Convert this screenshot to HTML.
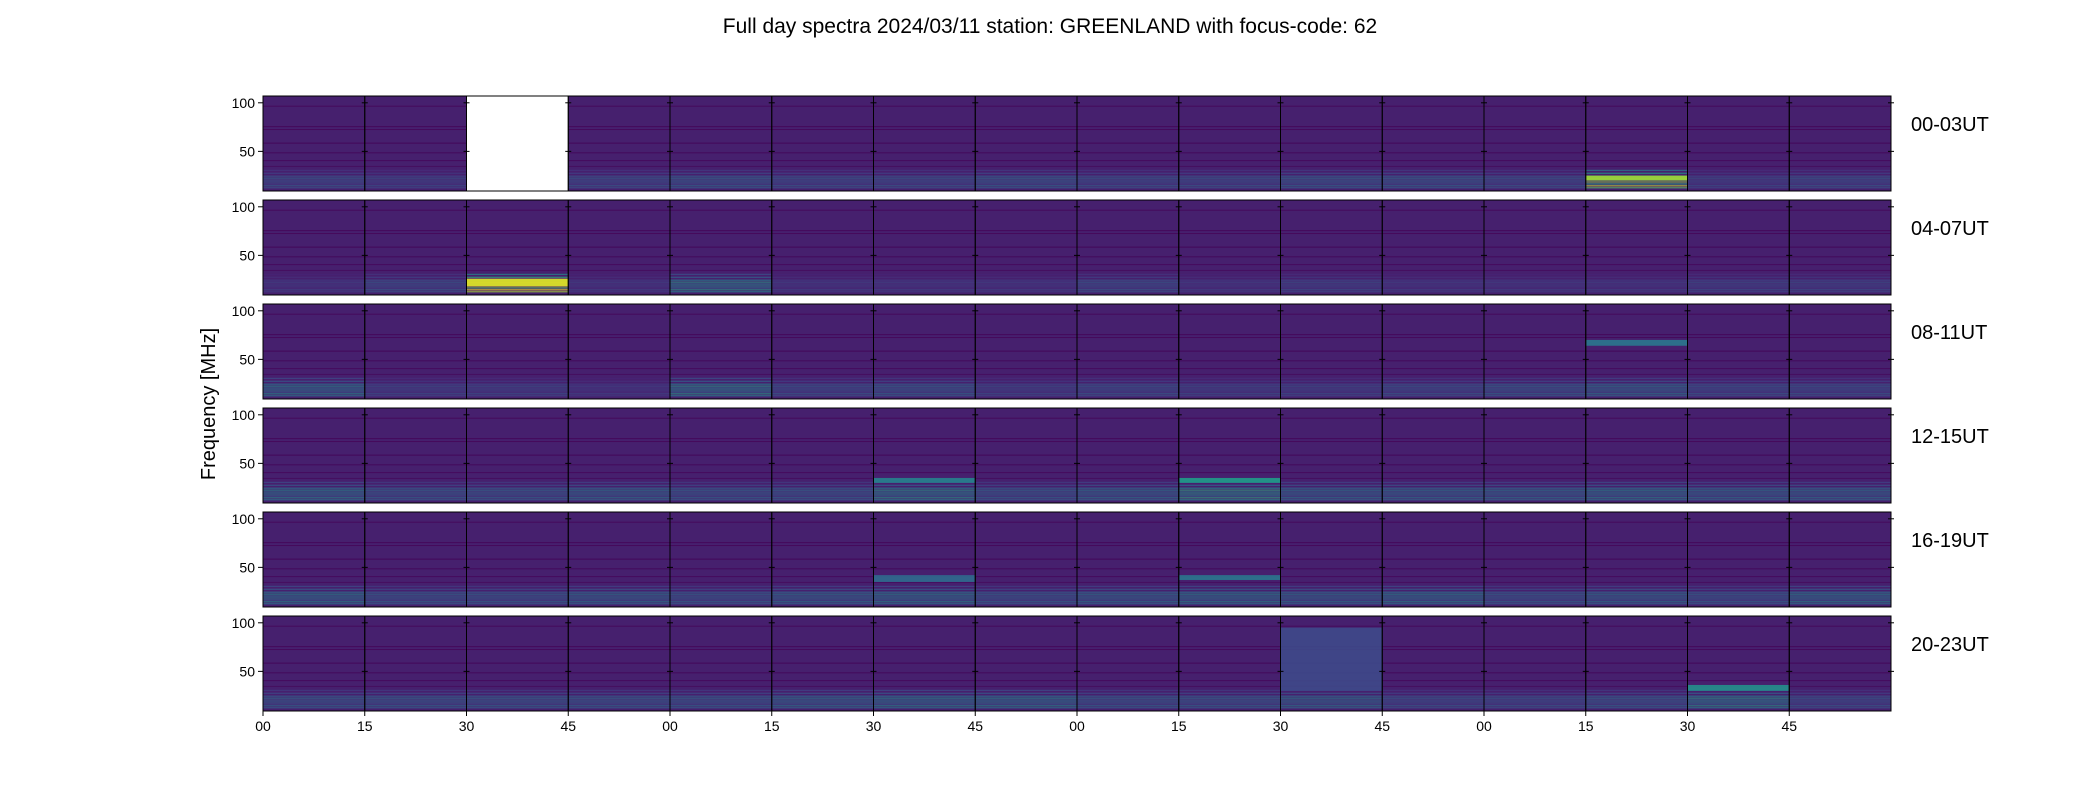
<!DOCTYPE html>
<html><head><meta charset="utf-8"><style>
body{margin:0;background:#fff;}
svg{display:block;font-family:"Liberation Sans","DejaVu Sans",sans-serif;}
</style></head><body>
<svg id="chart" width="2100" height="800" viewBox="0 0 2100 800" xmlns="http://www.w3.org/2000/svg">
<text x="1050" y="33" font-size="21" text-anchor="middle">Full day spectra 2024/03/11 station: GREENLAND with focus-code: 62</text>
<text x="0" y="0" font-size="20" text-anchor="middle" transform="translate(215,404) rotate(-90)">Frequency [MHz]</text>
<g id="panels"></g>
</svg>
<script>
const rowLabels=["00-03UT","04-07UT","08-11UT","12-15UT","16-19UT","20-23UT"];
const xTickLabels=["00","15","30","45","00","15","30","45","00","15","30","45","00","15","30","45"];
const yTicks=[50,100];
const lowBand=[
[0.3,0.25,null,0.3,0.35,0.3,0.3,0.35,0.3,0.3,0.35,0.35,0.3,0.8,0.25,0.3],
[0.2,0.3,0.95,0.2,0.5,0.2,0.2,0.2,0.3,0.2,0.25,0.2,0.2,0.2,0.25,0.25],
[0.45,0.25,0.25,0.2,0.5,0.3,0.35,0.25,0.3,0.25,0.25,0.3,0.35,0.4,0.3,0.3],
[0.45,0.35,0.35,0.4,0.35,0.35,0.5,0.35,0.4,0.55,0.4,0.4,0.4,0.45,0.4,0.4],
[0.45,0.35,0.35,0.4,0.35,0.4,0.45,0.35,0.4,0.45,0.4,0.45,0.35,0.4,0.35,0.45],
[0.35,0.35,0.35,0.35,0.35,0.4,0.45,0.45,0.35,0.35,0.4,0.3,0.3,0.35,0.5,0.3]];
const featRow=[0,1,2,3,3,5,5,4,4];
const featCol=[13,2,13,9,6,10,14,9,6];
const featLow=[20,18,64,30,30,30,30,37,35];
const featHigh=[25,26,70,35,35,95,36,42,42];
const featVal=[0.85,0.95,0.4,0.55,0.45,0.22,0.5,0.4,0.35];
const stripeFreq=[12,14,16,18,20,22,24,27,30,34,40,48,58,72,75,96];
const stripeWeight=[0.8,1.0,0.7,0.9,0.85,1.0,0.8,0.6,0.45,0.25,0.15,0.1,0.08,0.12,0.1,0.12];

const V=[[68,1,84],[72,40,120],[62,74,137],[49,104,142],[38,130,142],[31,158,137],[53,183,121],[110,206,88],[181,222,43],[253,231,37]];
function vir(t){t=Math.max(0,Math.min(1,t))*9;const i=Math.min(8,Math.floor(t)),f=t-i;const a=V[i],b=V[i+1];
return `rgb(${Math.round(a[0]+(b[0]-a[0])*f)},${Math.round(a[1]+(b[1]-a[1])*f)},${Math.round(a[2]+(b[2]-a[2])*f)})`;}
const X0=263,PW=1628/16,Y0=96,PH=95,PITCH=104,FMIN=9.2,FMAX=107;
function xPanel(c){return X0+c*PW;}
function yRow(r){return Y0+r*PITCH;}
function yF(r,f){return yRow(r)+(FMAX-f)/(FMAX-FMIN)*PH;}
const NS="http://www.w3.org/2000/svg";
const G=document.getElementById('panels');
function mk(tag,attrs,parent){const e=document.createElementNS(NS,tag);for(const k in attrs)e.setAttribute(k,attrs[k]);(parent||G).appendChild(e);return e;}
for(let r=0;r<6;r++){
 for(let c=0;c<16;c++){
  const x=xPanel(c),y=yRow(r),lv=lowBand[r][c];
  const bg=mk('rect',{x:x,y:y,width:PW,height:PH,fill:lv===null?'#ffffff':'rgb(70,32,110)'});
  
  
  if(lv===null)continue;
  for(let s=0;s<stripeFreq.length;s++){
   const f=stripeFreq[s];const v=(f<32?lv*1.15:0.12)*stripeWeight[s];
   const st=mk('rect',{x:x,y:yF(r,f+1),width:PW,height:Math.max(1,yF(r,f)-yF(r,f+1)),fill:vir(v),opacity:0.85});
   
   
  }
 }
 for(let k=0;k<featRow.length;k++){
  if(featRow[k]!==r)continue;const c=featCol[k];
  const fr=mk('rect',{x:xPanel(c),y:yF(r,featHigh[k]),width:PW,height:yF(r,featLow[k])-yF(r,featHigh[k]),fill:vir(featVal[k]),opacity:0.9});
  
  
 }
 for(let c=0;c<16;c++){
  const fb=mk('rect',{x:xPanel(c),y:yRow(r),width:PW,height:PH,fill:'none',stroke:'#000','stroke-width':1});
  
  
  for(const t of yTicks){mk('line',{x1:xPanel(c)+PW-3,x2:xPanel(c)+PW+3,y1:yF(r,t),y2:yF(r,t),stroke:'#000','stroke-width':1});}
 }
 for(const t of yTicks){
  mk('line',{x1:X0-5,x2:X0,y1:yF(r,t),y2:yF(r,t),stroke:'#000','stroke-width':1});
  const tl=mk('text',{x:X0-8,y:yF(r,t)+5,'font-size':14,'text-anchor':'end'});tl.textContent=t;
  
  
 }
 const rl=mk('text',{x:1911,y:yRow(r)+35,'font-size':20});rl.textContent=rowLabels[r];
 
 
}
for(let c=0;c<16;c++){
 mk('line',{x1:xPanel(c),x2:xPanel(c),y1:711,y2:716,stroke:'#000','stroke-width':1});
 const xl=mk('text',{x:xPanel(c),y:731,'font-size':14,'text-anchor':'middle'});xl.textContent=xTickLabels[c];
 
 
}
</script>
</body></html>
